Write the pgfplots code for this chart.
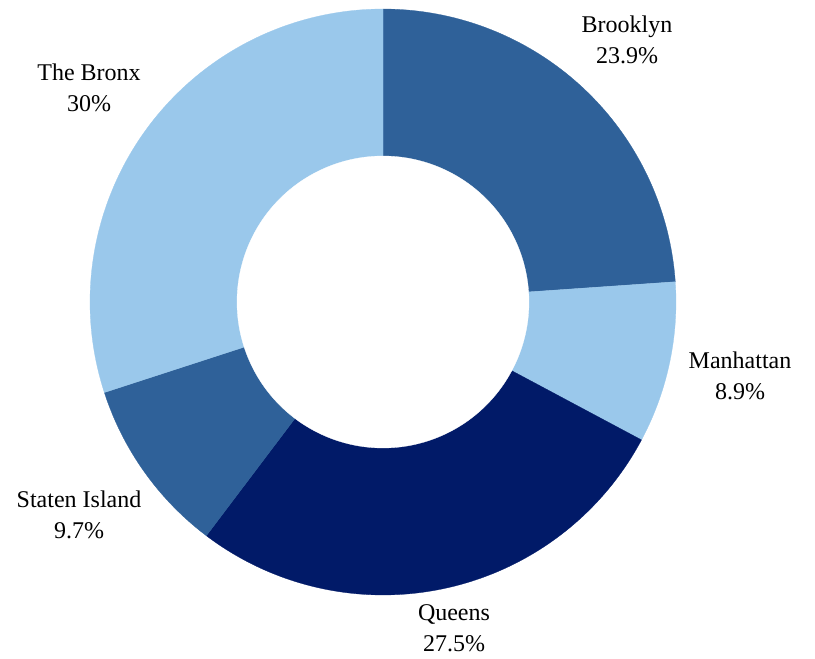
\documentclass[border=0pt]{standalone}
\usepackage{pgfplots}
\pgfplotsset{compat=1.18}
\usepackage{fontspec}
\setmainfont{Liberation Serif}
\definecolor{midblue}{RGB}{47,97,153}
\definecolor{lightblue}{RGB}{154,200,235}
\definecolor{navy}{RGB}{1,26,104}
\begin{document}
\begin{tikzpicture}
\def\Ro{293}
\def\Ri{146}
% shares (percent): Brooklyn, Manhattan, Queens, Staten Island, The Bronx
\def\pA{23.9}\def\pB{8.9}\def\pC{27.5}\def\pD{9.7}\def\pE{30}
\pgfmathsetmacro{\aA}{90}
\pgfmathsetmacro{\aB}{\aA-3.6*\pA}
\pgfmathsetmacro{\aC}{\aB-3.6*\pB}
\pgfmathsetmacro{\aD}{\aC-3.6*\pC}
\pgfmathsetmacro{\aE}{\aD-3.6*\pD}
\pgfmathsetmacro{\aF}{\aE-3.6*\pE}
\begin{axis}[scale only axis, width=611.25pt, height=493.5pt,
  xmin=-383, xmax=432, ymin=-356, ymax=302, hide axis, clip=false]
\path (rel axis cs:0,0) rectangle (rel axis cs:1,1);
\addplot[fill=midblue, draw=midblue, line width=0.2pt, domain=\aB:\aA, samples=120] ({\Ro*cos(x)},{\Ro*sin(x)}) -- (axis cs:0,0) -- cycle;
\addplot[fill=lightblue, draw=lightblue, line width=0.2pt, domain=\aC:\aB, samples=60] ({\Ro*cos(x)},{\Ro*sin(x)}) -- (axis cs:0,0) -- cycle;
\addplot[fill=navy, draw=navy, line width=0.2pt, domain=\aD:\aC, samples=140] ({\Ro*cos(x)},{\Ro*sin(x)}) -- (axis cs:0,0) -- cycle;
\addplot[fill=midblue, draw=midblue, line width=0.2pt, domain=\aE:\aD, samples=60] ({\Ro*cos(x)},{\Ro*sin(x)}) -- (axis cs:0,0) -- cycle;
\addplot[fill=lightblue, draw=lightblue, line width=0.2pt, domain=\aF:\aE, samples=140] ({\Ro*cos(x)},{\Ro*sin(x)}) -- (axis cs:0,0) -- cycle;
\addplot[fill=white, draw=white, line width=0.2pt, domain=0:360, samples=240] ({\Ri*cos(x)},{\Ri*sin(x)}) -- cycle;
\begin{scope}[every node/.style={align=center, font=\fontsize{18}{23}\selectfont}]
\node at (axis cs:244,262) {Brooklyn\\23.9\%};
\node at (axis cs:357,-74) {Manhattan\\8.9\%};
\node at (axis cs:71,-326) {Queens\\27.5\%};
\node at (axis cs:-304,-213) {Staten Island\\9.7\%};
\node at (axis cs:-294,214) {The Bronx\\30\%};
\end{scope}
\end{axis}
\end{tikzpicture}
\end{document}
